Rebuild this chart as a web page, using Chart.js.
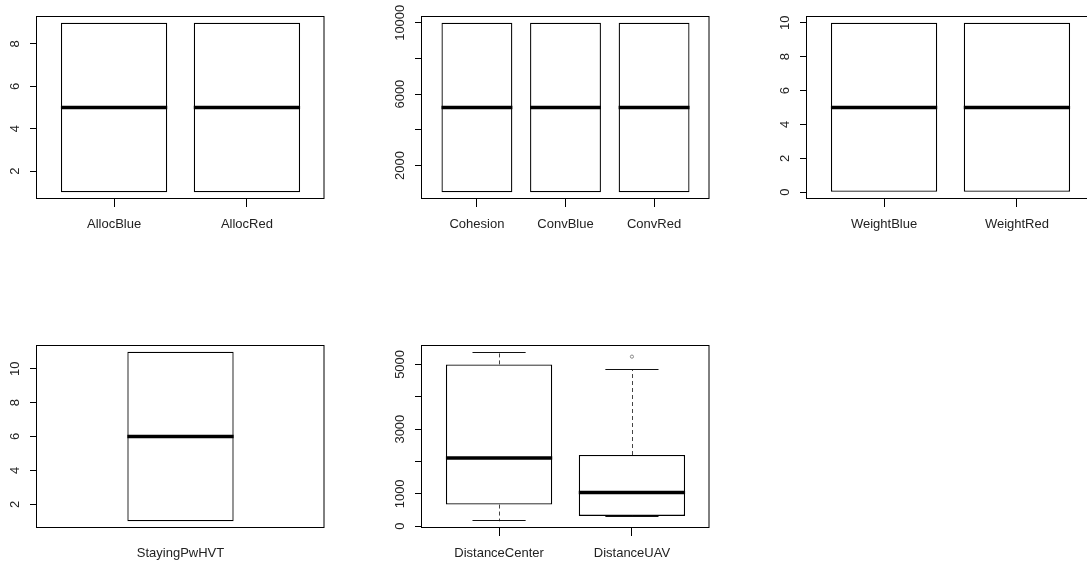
<!DOCTYPE html>
<html>
<head>
<meta charset="utf-8">
<script src="https://cdn.jsdelivr.net/npm/chart.js@4.4.1/dist/chart.umd.min.js"></script>
<style>
  html, body { margin: 0; padding: 0; background: #fff; overflow: hidden; }
  #wrap { position: relative; width: 1087px; height: 562px; overflow: hidden; }
  canvas { position: absolute; }
</style>
</head>
<body>
<div id="wrap">
  <canvas id="c1" width="385" height="329" style="left:0px;top:0px"></canvas>
  <canvas id="c2" width="385" height="329" style="left:385px;top:0px"></canvas>
  <canvas id="c3" width="385" height="329" style="left:770px;top:0px"></canvas>
  <canvas id="c4" width="385" height="329" style="left:0px;top:329px"></canvas>
  <canvas id="c5" width="385" height="329" style="left:385px;top:329px"></canvas>
</div>
<script>
// five-number summaries: [min, q1, median, q3, max]
const allocNames = ['AllocBlue', 'AllocRed'];
const allocStats = [[1, 1, 5, 9, 9], [1, 1, 5, 9, 9]];
const allocTicks = [2, 4, 6, 8];
const allocTickLabels = ['2', '4', '6', '8'];

const convNames = ['Cohesion', 'ConvBlue', 'ConvRed'];
const convStats = [[500, 500, 5250, 10000, 10000], [500, 500, 5250, 10000, 10000], [500, 500, 5250, 10000, 10000]];
const convTicks = [2000, 4000, 6000, 8000, 10000];
const convTickLabels = ['2000', '', '6000', '', '10000'];

const weightNames = ['WeightBlue', 'WeightRed'];
const weightStats = [[0, 0, 5, 10, 10], [0, 0, 5, 10, 10]];
const weightTicks = [0, 2, 4, 6, 8, 10];
const weightTickLabels = ['0', '2', '4', '6', '8', '10'];

const stayNames = ['StayingPwHVT'];
const stayStats = [[1, 1, 6, 11, 11]];
const stayTicks = [2, 4, 6, 8, 10];
const stayTickLabels = ['2', '4', '6', '8', '10'];

const distNames = ['DistanceCenter', 'DistanceUAV'];
const distStats = [[155, 670, 2110, 5000, 5390], [290, 320, 1040, 2200, 4850]];
const distOutliers = [[], [5240]];
const distTicks = [0, 1000, 2000, 3000, 4000, 5000];
const distTickLabels = ['0', '1000', '', '3000', '', '5000'];

const FONT = '"Liberation Sans", Arial, Helvetica, sans-serif';
const FONT_SIZE = 13;
Chart.defaults.font.family = FONT;
Chart.defaults.font.size = FONT_SIZE;
Chart.defaults.color = '#222';

const measureCtx = document.createElement('canvas').getContext('2d');
measureCtx.font = 'normal ' + FONT_SIZE + 'px ' + FONT;

// whiskers, staples, medians and the frame round the plot
const boxPlot = {
  id: 'boxPlot',
  afterDatasetsDraw(chart, args, opts) {
    const { ctx, chartArea: a } = chart;
    const y = chart.scales.y;
    const meta = chart.getDatasetMeta(0);
    const line = (x1, y1, x2, y2) => {
      ctx.beginPath();
      ctx.moveTo(x1, y1);
      ctx.lineTo(x2, y2);
      ctx.stroke();
    };
    ctx.save();
    meta.data.forEach((bar, i) => {
      const [lo, q1, med, q3, hi] = opts.stats[i];
      const x = Math.round(bar.x) + 0.5;
      const w = bar.width;
      ctx.lineWidth = 1;
      ctx.strokeStyle = '#444';
      ctx.setLineDash([4, 3]);
      if (hi > q3) line(x, y.getPixelForValue(q3), x, y.getPixelForValue(hi));
      if (lo < q1) line(x, y.getPixelForValue(q1), x, y.getPixelForValue(lo));
      ctx.setLineDash([]);
      ctx.strokeStyle = '#111';
      if (hi > q3) {
        const yHi = Math.round(y.getPixelForValue(hi)) + 0.5;
        line(bar.x - w / 4, yHi, bar.x + w / 4, yHi);
      }
      if (lo < q1) {
        const yLo = Math.round(y.getPixelForValue(lo)) - 0.5;
        line(bar.x - w / 4, yLo, bar.x + w / 4, yLo);
      }
      ctx.strokeStyle = '#000';
      ctx.lineWidth = 3.5;
      ctx.lineCap = 'butt';
      const yMed = y.getPixelForValue(med);
      line(bar.x - w / 2, yMed, bar.x + w / 2, yMed);
    });
    ctx.lineWidth = 1;
    ctx.strokeStyle = '#000';
    ctx.strokeRect(a.left - 0.5, a.top + 0.5, a.width + 0.5, a.height - 1);
    ctx.restore();
  }
};

function makePanel(id, names, stats, outliers, ticks, tickLabels) {
  const n = names.length;
  let lo = Math.min(...stats.map(s => s[0]));
  let hi = Math.max(...stats.map(s => s[4]));
  outliers.forEach(list => list.forEach(v => { lo = Math.min(lo, v); hi = Math.max(hi, v); }));
  const yPad = (hi - lo) * 0.04;
  const xPad = n * 0.04;
  const xMin = 0.5 - xPad, xMax = n + 0.5 + xPad;
  const boxW = n === 1 ? 0.4 : 0.8;
  const widest = Math.max(...tickLabels.map(t => measureCtx.measureText(t).width));

  const boxes = stats.map((s, i) => ({ x: i + 1, y: [s[1], s[3]] }));
  const points = [];
  outliers.forEach((list, i) => list.forEach(v => points.push({ x: i + 1, y: v })));

  return new Chart(document.getElementById(id), {
    type: 'bar',
    data: {
      datasets: [{
        type: 'bar',
        data: boxes,
        backgroundColor: '#fff',
        borderColor: '#000',
        borderWidth: 1.3,
        borderSkipped: false,
        barPercentage: n === 1 ? boxW / (xMax - xMin) : boxW,
        categoryPercentage: 1
      }, {
        type: 'scatter',
        data: points,
        pointRadius: 1.6,
        pointBorderWidth: 1,
        pointBorderColor: '#888',
        pointBackgroundColor: 'rgba(0,0,0,0)'
      }]
    },
    options: {
      responsive: false,
      animation: false,
      layout: { padding: { top: 16, right: 61, left: 0, bottom: 0 } },
      plugins: {
        legend: { display: false },
        tooltip: { enabled: false },
        boxPlot: { stats: stats }
      },
      scales: {
        x: {
          type: 'linear',
          min: xMin,
          max: xMax,
          offset: false,
          grid: { display: true, offset: false, drawOnChartArea: false, drawTicks: true, tickLength: 8, tickColor: n === 1 ? 'rgba(0,0,0,0)' : '#000' },
          border: { display: false },
          ticks: {
            autoSkip: false,
            maxRotation: 0,
            padding: 10,
            callback: (v, i) => names[i]
          },
          afterBuildTicks: s => { s.ticks = names.map((nm, i) => ({ value: i + 1 })); },
          afterFit: s => { s.height = 130; s.paddingLeft = 0; s.paddingRight = 0; }
        },
        y: {
          type: 'linear',
          min: lo - yPad,
          max: hi + yPad,
          grid: { display: true, drawOnChartArea: false, drawTicks: true, tickLength: 7, tickColor: '#000' },
          border: { display: false },
          ticks: {
            autoSkip: false,
            minRotation: 90,
            maxRotation: 90,
            crossAlign: 'center',
            padding: 15 - widest / 2,
            callback: (v, i) => tickLabels[i]
          },
          afterBuildTicks: s => { s.ticks = ticks.map(v => ({ value: v })); },
          afterFit: s => { s.width = 37; s.paddingTop = 0; s.paddingBottom = 0; }
        }
      }
    },
    plugins: [boxPlot]
  });
}

makePanel('c1', allocNames, allocStats, [[], []], allocTicks, allocTickLabels);
makePanel('c2', convNames, convStats, [[], [], []], convTicks, convTickLabels);
makePanel('c3', weightNames, weightStats, [[], []], weightTicks, weightTickLabels);
makePanel('c4', stayNames, stayStats, [[]], stayTicks, stayTickLabels);
makePanel('c5', distNames, distStats, distOutliers, distTicks, distTickLabels);
</script>
</body>
</html>
